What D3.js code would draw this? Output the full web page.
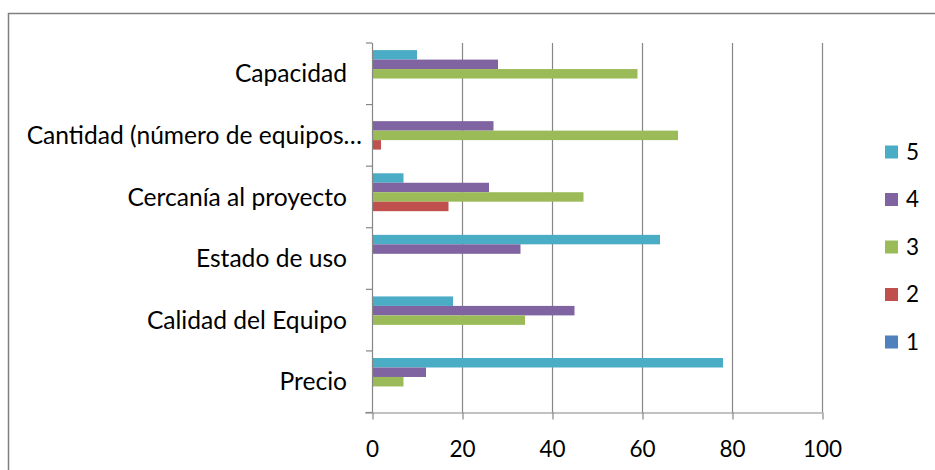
<!DOCTYPE html>
<html>
<head>
<meta charset="utf-8">
<script src="https://cdn.jsdelivr.net/npm/d3@7"></script>
<style>
  html, body { margin: 0; padding: 0; background: #fff; }
  svg { display: block; }
  text { font-family: Lato, "Open Sans", sans-serif; fill: #000; }
</style>
</head>
<body>
<svg id="chart" width="935" height="470"></svg>
<script>
// Categories, listed top to bottom as they appear on the axis
const categories = [
  "Capacidad",
  "Cantidad (número de equipos…",
  "Cercanía al proyecto",
  "Estado de uso",
  "Calidad del Equipo",
  "Precio"
];

// Series names (rating 1–5) and their values per category (same order as categories)
const seriesNames = ["5", "4", "3", "2", "1"];
const s5 = [10, 0, 7, 64, 18, 78];
const s4 = [28, 27, 26, 33, 45, 12];
const s3 = [59, 68, 47, 0, 34, 7];
const s2 = [0, 2, 17, 0, 0, 0];
const s1 = [0, 0, 0, 0, 0, 0];
const seriesValues = [s5, s4, s3, s2, s1];

const xTicks = [0, 20, 40, 60, 80, 100];
const legendOrder = ["5", "4", "3", "2", "1"];

const colors = {
  "1": "#4F81BD",
  "2": "#C0504D",
  "3": "#9BBB59",
  "4": "#8064A2",
  "5": "#4BACC6"
};

const svg = d3.select("#chart");
const gridColor = "#868686";

// chart frame
svg.append("rect")
  .attr("x", 8.5).attr("y", 13.5)
  .attr("width", 1000).attr("height", 1000)
  .attr("fill", "none")
  .attr("stroke", "#7f7f7f")
  .attr("stroke-width", 1.5);

const plot = { left: 372, right: 822, top: 43, bottom: 412.5 };

const x = d3.scaleLinear().domain([0, 100]).range([plot.left, plot.right]);
const y = d3.scaleBand().domain(categories).range([plot.top, plot.bottom]).paddingInner(0).paddingOuter(0);
// 150% gap: 5 bars + 1.5 bar widths of gap per category
const inner = d3.scaleBand().domain(seriesNames)
  .range([0, y.bandwidth()])
  .paddingInner(0)
  .paddingOuter(0.75);

// vertical gridlines
svg.append("g")
  .selectAll("line")
  .data(xTicks.filter(d => d > 0))
  .join("line")
  .attr("x1", d => x(d) + 0.5).attr("x2", d => x(d) + 0.5)
  .attr("y1", plot.top).attr("y2", plot.bottom)
  .attr("stroke", gridColor).attr("stroke-width", 1.2);

// bars
const rows = [];
categories.forEach((c, i) => {
  seriesNames.forEach((s, j) => {
    rows.push({ cat: c, series: s, value: seriesValues[j][i] });
  });
});

svg.append("g")
  .selectAll("rect")
  .data(rows.filter(d => d.value > 0))
  .join("rect")
  .attr("x", x(0))
  .attr("y", d => y(d.cat) + inner(d.series))
  .attr("width", d => x(d.value) - x(0))
  .attr("height", inner.bandwidth())
  .attr("fill", d => colors[d.series]);

// x axis
const xAxis = d3.axisBottom(x).tickValues(xTicks).tickSize(7).tickSizeOuter(0).tickPadding(22);
const gx = svg.append("g")
  .attr("transform", `translate(0,${plot.bottom})`)
  .call(xAxis);
gx.select(".domain").remove();
gx.append("line")
  .attr("x1", plot.left - 7).attr("x2", plot.right)
  .attr("y1", 0.5).attr("y2", 0.5)
  .attr("stroke", gridColor).attr("stroke-width", 1.2);
gx.selectAll(".tick line").attr("stroke", gridColor).attr("stroke-width", 1.2).attr("transform", "translate(0.5,0)");
gx.selectAll(".tick text")
  .attr("font-size", 22.5)
  .attr("font-family", "Lato, 'Open Sans', sans-serif")
  .attr("fill", "#000");

// y axis line and category boundary ticks
const gy = svg.append("g");
gy.append("line")
  .attr("x1", plot.left + 0.5).attr("x2", plot.left + 0.5)
  .attr("y1", plot.top).attr("y2", plot.bottom)
  .attr("stroke", gridColor).attr("stroke-width", 1.2);
const boundaries = categories.map(c => y(c)).concat([plot.bottom]);
gy.selectAll("line.tk")
  .data(boundaries)
  .join("line")
  .attr("class", "tk")
  .attr("x1", plot.left - 6).attr("x2", plot.left)
  .attr("y1", d => d).attr("y2", d => d)
  .attr("stroke", gridColor).attr("stroke-width", 1.2);

// category labels
gy.selectAll("text")
  .data(categories)
  .join("text")
  .attr("x", d => d.endsWith("…") ? 362 : 347)
  .attr("y", d => y(d) + y.bandwidth() / 2)
  .attr("dy", "0.35em")
  .attr("text-anchor", "end")
  .attr("font-size", 24.6)
  .text(d => d);

// legend
const ly = d3.scalePoint().domain(legendOrder).range([152, 342]);
const legend = svg.append("g")
  .selectAll("g")
  .data(legendOrder)
  .join("g")
  .attr("transform", d => `translate(885,${ly(d)})`);
legend.append("rect")
  .attr("x", 0).attr("y", -6.5)
  .attr("width", 13).attr("height", 13)
  .attr("fill", d => colors[d]);
legend.append("text")
  .attr("x", 21).attr("y", 0)
  .attr("dy", "0.35em")
  .attr("font-size", 22.5)
  .text(d => d);
</script>
</body>
</html>
